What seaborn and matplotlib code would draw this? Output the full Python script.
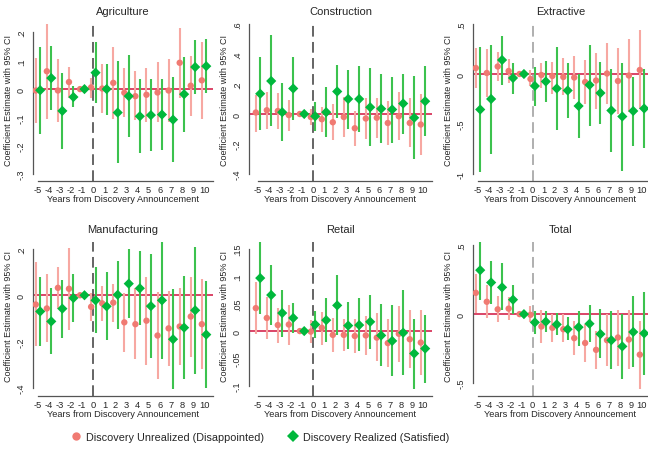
import numpy as np
import pandas as pd
import matplotlib
matplotlib.use("Agg")
import matplotlib.pyplot as plt
from matplotlib.lines import Line2D
import seaborn as sns

sns.set_theme(style="white")
plt.rcParams["font.family"] = ["Liberation Sans", "DejaVu Sans"]

# Event time relative to the discovery announcement
years = list(range(-5, 11))

SERIES_U = "Discovery Unrealized (Disappointed)"
SERIES_R = "Discovery Realized (Satisfied)"

# ---- Agriculture ----
agri_u = [-0.005, 0.063, -0.005, 0.025, 0.0, 0.006, 0.002, 0.022, -0.013, -0.025, -0.020, -0.012, -0.005, 0.093, 0.012, 0.031]
agri_u_lo = [-0.120, -0.105, -0.115, -0.030, 0.0, -0.030, -0.085, -0.105, -0.100, -0.110, -0.115, -0.115, -0.115, -0.030, -0.095, -0.105]
agri_u_hi = [0.110, 0.230, 0.105, 0.078, 0.0, 0.040, 0.088, 0.148, 0.075, 0.063, 0.075, 0.095, 0.107, 0.215, 0.118, 0.165]
agri_r = [-0.004, 0.039, -0.077, -0.028, 0.0, 0.058, 0.000, -0.083, -0.025, -0.096, -0.092, -0.090, -0.108, -0.018, 0.078, 0.081]
agri_r_lo = [-0.157, -0.075, -0.210, -0.065, 0.0, -0.050, -0.090, -0.260, -0.170, -0.225, -0.220, -0.215, -0.258, -0.150, -0.018, -0.015]
agri_r_hi = [0.150, 0.153, 0.057, 0.010, 0.0, 0.165, 0.090, 0.098, 0.120, 0.035, 0.036, 0.035, 0.042, 0.115, 0.173, 0.177]

# ---- Construction ----
cons_u = [0.010, 0.025, 0.020, -0.007, 0.0, -0.020, -0.035, -0.055, -0.020, -0.095, -0.030, -0.025, -0.060, -0.015, -0.060, -0.070]
cons_u_lo = [-0.120, -0.100, -0.100, -0.110, 0.0, -0.075, -0.120, -0.175, -0.155, -0.210, -0.165, -0.160, -0.205, -0.175, -0.220, -0.270]
cons_u_hi = [0.130, 0.145, 0.140, 0.095, 0.0, 0.035, 0.050, 0.070, 0.115, 0.020, 0.105, 0.105, 0.090, 0.150, 0.105, 0.135]
cons_r = [0.135, 0.220, 0.012, 0.170, 0.0, -0.015, 0.012, 0.150, 0.100, 0.100, 0.045, 0.035, 0.030, 0.070, -0.025, 0.085]
cons_r_lo = [-0.105, -0.080, -0.180, -0.040, 0.0, -0.110, -0.155, -0.025, -0.100, -0.120, -0.215, -0.195, -0.190, -0.130, -0.300, -0.145]
cons_r_hi = [0.380, 0.525, 0.205, 0.380, 0.0, 0.078, 0.180, 0.325, 0.295, 0.320, 0.305, 0.270, 0.250, 0.265, 0.255, 0.320]

# ---- Extractive ----
extr_u = [0.060, 0.010, 0.075, 0.030, 0.0, -0.050, -0.010, -0.020, -0.030, -0.035, -0.080, -0.065, 0.005, -0.070, -0.015, 0.040]
extr_u_lo = [-0.140, -0.230, -0.070, -0.090, 0.0, -0.120, -0.140, -0.200, -0.210, -0.250, -0.300, -0.350, -0.300, -0.400, -0.380, -0.350]
extr_u_hi = [0.260, 0.250, 0.220, 0.150, 0.0, 0.040, 0.115, 0.120, 0.160, 0.180, 0.145, 0.210, 0.310, 0.260, 0.350, 0.440]
extr_r = [-0.355, -0.250, 0.140, -0.040, 0.0, -0.120, -0.075, -0.145, -0.165, -0.320, -0.110, -0.190, -0.365, -0.425, -0.370, -0.345]
extr_r_lo = [-0.980, -0.800, -0.110, -0.200, 0.0, -0.320, -0.280, -0.560, -0.440, -0.640, -0.520, -0.500, -0.780, -0.970, -0.720, -0.740]
extr_r_hi = [0.270, 0.295, 0.380, 0.115, 0.0, 0.075, 0.130, 0.270, 0.110, 0.000, 0.290, 0.125, 0.055, 0.110, -0.030, 0.050]

# ---- Manufacturing ----
manu_u = [-0.040, -0.057, 0.032, 0.028, 0.0, -0.050, -0.035, -0.032, -0.117, -0.125, -0.110, -0.174, -0.143, -0.135, -0.092, -0.125]
manu_u_lo = [-0.220, -0.200, -0.060, -0.150, 0.0, -0.110, -0.110, -0.115, -0.245, -0.275, -0.300, -0.360, -0.305, -0.300, -0.265, -0.320]
manu_u_hi = [0.145, 0.090, 0.122, 0.205, 0.0, 0.010, 0.040, 0.050, 0.010, 0.030, 0.080, 0.012, 0.020, 0.030, 0.080, 0.070]
manu_r = [-0.070, -0.113, -0.058, -0.012, 0.0, -0.022, -0.048, 0.002, 0.050, 0.030, -0.047, -0.022, -0.190, -0.140, -0.065, -0.170]
manu_r_lo = [-0.220, -0.255, -0.183, -0.115, 0.0, -0.165, -0.195, -0.145, -0.100, -0.130, -0.270, -0.275, -0.405, -0.362, -0.340, -0.400]
manu_r_hi = [0.077, 0.030, 0.068, 0.092, 0.0, 0.122, 0.100, 0.150, 0.200, 0.190, 0.177, 0.230, 0.025, 0.085, 0.210, 0.062]

# ---- Retail ----
reta_u = [0.042, 0.024, 0.011, 0.012, 0.0, -0.001, 0.006, -0.007, -0.007, -0.009, -0.008, -0.012, -0.022, -0.005, -0.015, -0.021]
reta_u_lo = [-0.005, -0.015, -0.021, -0.025, 0.0, -0.021, -0.025, -0.038, -0.037, -0.040, -0.044, -0.055, -0.065, -0.057, -0.068, -0.080]
reta_u_hi = [0.089, 0.063, 0.042, 0.048, 0.0, 0.020, 0.035, 0.024, 0.022, 0.023, 0.028, 0.033, 0.022, 0.046, 0.038, 0.039]
reta_r = [0.097, 0.066, 0.033, 0.024, 0.0, 0.012, 0.020, 0.047, 0.010, 0.011, 0.017, -0.008, -0.018, -0.003, -0.041, -0.032]
reta_r_lo = [0.031, 0.012, -0.010, -0.004, 0.0, -0.013, -0.020, -0.008, -0.033, -0.037, -0.032, -0.063, -0.083, -0.080, -0.106, -0.095]
reta_r_hi = [0.163, 0.121, 0.076, 0.052, 0.0, 0.037, 0.060, 0.103, 0.054, 0.061, 0.066, 0.049, 0.048, 0.076, 0.023, 0.030]

# ---- Total ----
tota_u = [0.155, 0.090, 0.035, 0.040, 0.0, -0.005, -0.090, -0.100, -0.110, -0.175, -0.210, -0.260, -0.190, -0.170, -0.185, -0.295]
tota_u_lo = [0.010, -0.030, -0.055, -0.040, 0.0, -0.060, -0.210, -0.200, -0.200, -0.300, -0.350, -0.400, -0.380, -0.380, -0.400, -0.545]
tota_u_hi = [0.295, 0.215, 0.135, 0.125, 0.0, 0.060, 0.030, 0.000, 0.000, -0.050, -0.070, -0.120, 0.000, 0.030, 0.030, -0.050]
tota_r = [0.320, 0.230, 0.195, 0.105, 0.0, -0.060, -0.055, -0.075, -0.110, -0.095, -0.070, -0.145, -0.190, -0.235, -0.130, -0.140]
tota_r_lo = [0.105, 0.075, 0.030, 0.000, 0.0, -0.145, -0.130, -0.155, -0.190, -0.230, -0.200, -0.320, -0.400, -0.475, -0.385, -0.445]
tota_r_hi = [0.525, 0.390, 0.370, 0.215, 0.0, 0.025, 0.020, 0.010, -0.020, 0.025, 0.065, 0.035, 0.020, 0.000, 0.130, 0.160]

sectors = ["Agriculture", "Construction", "Extractive", "Manufacturing", "Retail", "Total"]
panel_data = {
    "Agriculture": (agri_u, agri_u_lo, agri_u_hi, agri_r, agri_r_lo, agri_r_hi),
    "Construction": (cons_u, cons_u_lo, cons_u_hi, cons_r, cons_r_lo, cons_r_hi),
    "Extractive": (extr_u, extr_u_lo, extr_u_hi, extr_r, extr_r_lo, extr_r_hi),
    "Manufacturing": (manu_u, manu_u_lo, manu_u_hi, manu_r, manu_r_lo, manu_r_hi),
    "Retail": (reta_u, reta_u_lo, reta_u_hi, reta_r, reta_r_lo, reta_r_hi),
    "Total": (tota_u, tota_u_lo, tota_u_hi, tota_r, tota_r_lo, tota_r_hi),
}
yticks = {
    "Agriculture": [-0.3, -0.2, -0.1, 0, 0.1, 0.2],
    "Construction": [-0.4, -0.2, 0, 0.2, 0.4, 0.6],
    "Extractive": [-1, -0.5, 0, 0.5],
    "Manufacturing": [-0.4, -0.2, 0, 0.2],
    "Retail": [-0.1, -0.05, 0, 0.05, 0.1, 0.15],
    "Total": [-0.5, 0, 0.5],
}

# Long-form table of all estimates
rows = []
for sec in sectors:
    u, ulo, uhi, r, rlo, rhi = panel_data[sec]
    for i, yr in enumerate(years):
        rows.append(dict(sector=sec, year=yr, series=SERIES_U, x=yr - 0.2, coef=u[i], lo=ulo[i], hi=uhi[i]))
        rows.append(dict(sector=sec, year=yr, series=SERIES_R, x=yr + 0.2, coef=r[i], lo=rlo[i], hi=rhi[i]))
df = pd.DataFrame(rows)

RED_PT = "#f07a72"
RED_CI = "#f7a8a2"
GRN_PT = "#00b83c"
GRN_CI = "#3cc24e"
ZERO = "#d8365c"
palette = {SERIES_U: RED_PT, SERIES_R: GRN_PT}
markers = {SERIES_U: "o", SERIES_R: "D"}


def stata_fmt(v):
    s = f"{v:g}"
    if s.startswith("0."):
        s = s[1:]
    elif s.startswith("-0."):
        s = "-" + s[2:]
    return s


W, H = 648, 456
fig = plt.figure(figsize=(W / 100, H / 100), dpi=100)

# axes boxes in pixels: (left, right, x-limits) per column, (top, bottom) per row
cols = [(33, 213, (-5.45, 10.81)), (249, 432, (-5.82, 10.82)), (473, 648, (-5.46, 10.55))]
rows_px = [(25, 175), (243, 390)]
vline_col = {"Agriculture": "#3a3a3a", "Construction": "#3a3a3a", "Extractive": "#9a9a9a",
             "Manufacturing": "#3a3a3a", "Retail": "#3a3a3a", "Total": "#9a9a9a"}

for k, sec in enumerate(sectors):
    r_i, c_i = divmod(k, 3)
    left, right, xl = cols[c_i]
    top, bot = rows_px[r_i]
    ax = fig.add_axes([left / W, 1 - bot / H, (right - left) / W, (bot - top) / H])
    sub = df[df.sector == sec]

    # zero reference line and announcement marker
    ax.axhline(0, color=ZERO, lw=1.3, zorder=1)
    ax.axvline(0, ymin=-7 / (bot - top), ymax=1, color=vline_col[sec], lw=1.1,
               dashes=(7, 3.5), zorder=1, clip_on=False)

    # confidence intervals and point estimates
    su = sub[sub.series == SERIES_U]
    sr = sub[sub.series == SERIES_R]
    ax.vlines(su.x, su.lo, su.hi, color=RED_CI, lw=1.5, zorder=2)
    sns.scatterplot(data=su, x="x", y="coef", hue="series", style="series", palette=palette,
                    markers=markers, s=21, linewidth=0, legend=False, ax=ax, zorder=3)
    ax.vlines(sr.x, sr.lo, sr.hi, color=GRN_CI, lw=1.5, zorder=4)
    sns.scatterplot(data=sr, x="x", y="coef", hue="series", style="series", palette=palette,
                    markers=markers, s=27, linewidth=0, legend=False, ax=ax, zorder=5)

    ticks = yticks[sec]
    lo_all = min(ticks[0], sub.lo.min())
    hi_all = max(ticks[-1], sub.hi.max())
    ax.set_ylim(lo_all, hi_all)
    ax.set_xlim(*xl)

    ax.set_yticks(ticks)
    ax.set_yticklabels([stata_fmt(t) for t in ticks], rotation=90, va="center")
    ax.set_xticks(years)
    ax.set_xticklabels([str(y) for y in years])
    ax.tick_params(axis="y", length=3, width=0.8, color="#444444", pad=2, labelsize=6.5)
    ax.tick_params(axis="x", length=0, pad=3, labelsize=6.7)

    for s in ("top", "right"):
        ax.spines[s].set_visible(False)
    ax.spines["left"].set_color("#555555")
    ax.spines["left"].set_linewidth(0.9)
    ax.spines["left"].set_bounds(ticks[0], ticks[-1])
    ax.spines["bottom"].set_color("#555555")
    ax.spines["bottom"].set_linewidth(0.9)
    ax.spines["bottom"].set_position(("outward", 5))
    ax.spines["bottom"].set_bounds(-5, xl[1])

    ax.set_title(sec, fontsize=8, pad=7)
    ax.set_xlabel("Years from Discovery Announcement", fontsize=6.7, labelpad=0)
    ax.set_ylabel("Coefficient Estimate with 95% CI", fontsize=6.5, labelpad=3)
    ax.set_facecolor("white")

handles = [
    Line2D([], [], marker="o", color="none", markerfacecolor=RED_PT, markeredgewidth=0,
           markersize=6, label=SERIES_U),
    Line2D([], [], marker="D", color="none", markerfacecolor=GRN_PT, markeredgewidth=0,
           markersize=6, label=SERIES_R),
]
fig.legend(handles=handles, loc="center", bbox_to_anchor=(260 / W, 1 - 438 / H), ncol=2,
           frameon=False, fontsize=7.8, handlelength=1.0, handletextpad=0.4, columnspacing=2.2)

fig.savefig("out.png", dpi=100, facecolor="white")
